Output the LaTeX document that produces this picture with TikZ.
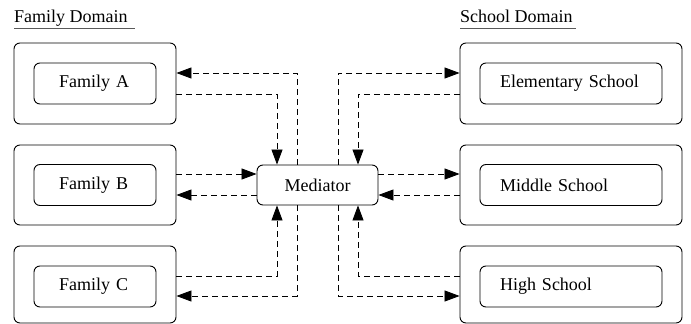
\documentclass[tikz,border=0pt]{standalone}
\usepackage{fontspec}
\setmainfont{Liberation Serif}
\usetikzlibrary{arrows.meta}
\begin{document}
\begin{tikzpicture}[x=1pt,y=-1pt, font=\fontsize{18}{21}\selectfont,
 outerbox/.style={draw, rounded corners=6pt, line width=0.9pt, inner sep=0pt},
 innerbox/.style={draw, rounded corners=6pt, line width=0.9pt, minimum height=41pt, align=left, inner ysep=0pt},
 medbox/.style={draw, fill=white, rounded corners=6pt, line width=0.9pt, minimum width=121pt, minimum height=40pt, inner sep=0pt},
 conn/.style={dash pattern=on 6pt off 4pt, line width=0.8pt},
 arr/.style={conn, -{Triangle[length=15pt,width=11pt]}},
 uline/.style={draw=black!65, line width=0.8pt}]
\useasboundingbox (0,0) rectangle (691,324);

% titles
\node[anchor=base west, inner sep=0pt] (famtitle) at (14,22) {Family Domain};
\draw[uline] ([yshift=-6pt]famtitle.base west) -- ++(121,0);
\node[anchor=base west, inner sep=0pt] (schtitle) at (460,22) {School Domain};
\draw[uline] ([yshift=-6pt]schtitle.base west) -- ++(116,0);

% family side
\node[outerbox, minimum width=162pt, minimum height=81pt] (famA) at (95,83.5) {};
\node[innerbox, text width=72pt, inner xsep=25pt] (famAin) at (95,83.5) {Family A};
\node[outerbox, minimum width=162pt, minimum height=80pt] (famB) at (95,185) {};
\node[innerbox, text width=72pt, inner xsep=25pt] (famBin) at (95,185) {Family B};
\node[outerbox, minimum width=162pt, minimum height=77pt] (famC) at (95,284.5) {};
\node[innerbox, text width=72pt, inner xsep=25pt] (famCin) at (95,286.5) {Family C};

% school side
\node[outerbox, minimum width=222pt, minimum height=81pt] (schA) at (571,83.5) {};
\node[innerbox, text width=142pt, inner xsep=20pt] (schAin) at (571,83.5) {Elementary School};
\node[outerbox, minimum width=222pt, minimum height=80pt] (schB) at (571,185) {};
\node[innerbox, text width=142pt, inner xsep=20pt] (schBin) at (571,185) {Middle School};
\node[outerbox, minimum width=222pt, minimum height=77pt] (schC) at (571,284.5) {};
\node[innerbox, text width=142pt, inner xsep=20pt] (schCin) at (571,286.5) {High School};

% mediator
\node[medbox] (med) at (317.5,185) {Mediator};

% family connectors
\draw[arr] ([xshift=-20.5pt]med.north) |- ([yshift=10.5pt]famA.east);
\draw[arr] ([yshift=-10.5pt]famA.east) -| ([xshift=-40.5pt]med.north);
\draw[arr] ([yshift=11pt]famB.east) -- ([yshift=11pt]famB.east -| med.west);
\draw[arr] ([yshift=-10pt]med.west) -- ([yshift=-10pt]med.west -| famB.east);
\draw[arr] ([yshift=8.5pt]famC.east) -| ([xshift=-40.5pt]med.south);
\draw[arr] ([xshift=-20.5pt]med.south) |- ([yshift=-11.5pt]famC.east);

% school connectors
\draw[arr] ([xshift=20.5pt]med.north) |- ([yshift=10.5pt]schA.west);
\draw[arr] ([yshift=-10.5pt]schA.west) -| ([xshift=40.5pt]med.north);
\draw[arr] ([yshift=11pt]med.east) -- ([yshift=11pt]med.east -| schB.west);
\draw[arr] ([yshift=-10pt]schB.west) -- ([yshift=-10pt]schB.west -| med.east);
\draw[arr] ([yshift=8.5pt]schC.west) -| ([xshift=40.5pt]med.south);
\draw[arr] ([xshift=20.5pt]med.south) |- ([yshift=-11.5pt]schC.west);
\end{tikzpicture}
\end{document}
